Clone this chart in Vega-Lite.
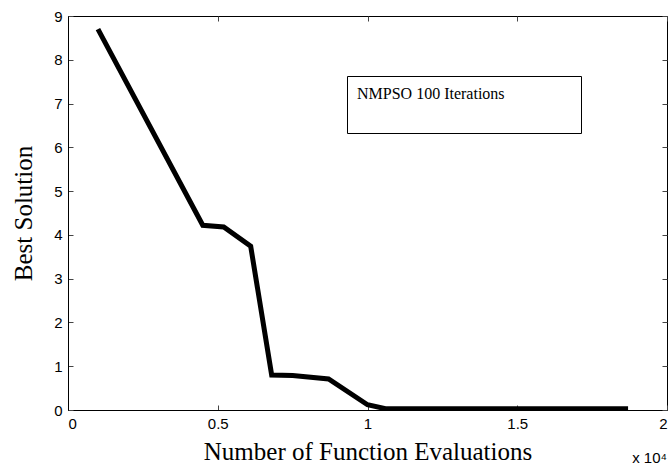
{
  "$schema": "https://vega.github.io/schema/vega-lite/v6.json",
  "autosize": "none",
  "padding": {"left": 68, "top": 16, "right": 1, "bottom": 58},
  "width": 599,
  "height": 394,
  "background": "white",
  "config": {
    "view": {"stroke": "black", "strokeWidth": 1},
    "axis": {
      "grid": false,
      "domainColor": "black",
      "tickColor": "#444",
      "tickSize": -5,
      "labelFont": "Liberation Sans",
      "labelFontSize": 15,
      "labelColor": "black",
      "titleFont": "Liberation Serif",
      "titleFontSize": 25,
      "titleFontWeight": "normal",
      "titleColor": "black"
    }
  },
  "title": {
    "text": "x 10⁴",
    "orient": "bottom",
    "anchor": "end",
    "frame": "group",
    "font": "Liberation Sans",
    "fontSize": 15,
    "fontWeight": "normal",
    "color": "black",
    "offset": -13
  },
  "data": {
    "values": [
      {"evals": 1000, "best": 8.7, "series": "NMPSO 100 Iterations"},
      {"evals": 4500, "best": 4.22, "series": "NMPSO 100 Iterations"},
      {"evals": 5200, "best": 4.18, "series": "NMPSO 100 Iterations"},
      {"evals": 6100, "best": 3.74, "series": "NMPSO 100 Iterations"},
      {"evals": 6800, "best": 0.8, "series": "NMPSO 100 Iterations"},
      {"evals": 7500, "best": 0.79, "series": "NMPSO 100 Iterations"},
      {"evals": 8700, "best": 0.71, "series": "NMPSO 100 Iterations"},
      {"evals": 10000, "best": 0.12, "series": "NMPSO 100 Iterations"},
      {"evals": 10600, "best": 0.03, "series": "NMPSO 100 Iterations"},
      {"evals": 18700, "best": 0.03, "series": "NMPSO 100 Iterations"}
    ]
  },
  "layer": [
    {
      "mark": {"type": "line", "strokeWidth": 5, "clip": true},
      "encoding": {
        "x": {
          "field": "evals", "type": "quantitative",
          "scale": {"domain": [0, 20000], "nice": false, "zero": false},
          "axis": {
            "orient": "bottom",
            "values": [0, 5000, 10000, 15000, 20000],
            "labelExpr": "datum.value / 10000",
            "labelPadding": 11,
            "title": "Number of Function Evaluations",
            "titlePadding": 8
          }
        },
        "y": {
          "field": "best", "type": "quantitative",
          "scale": {"domain": [0, 9], "nice": false, "zero": false},
          "axis": {
            "orient": "left",
            "values": [0, 1, 2, 3, 4, 5, 6, 7, 8, 9],
            "labelPadding": 11,
            "title": "Best Solution",
            "titlePadding": 17
          }
        },
        "color": {
          "field": "series", "type": "nominal",
          "scale": {"range": ["black"]},
          "legend": {
            "orient": "none",
            "legendX": 279,
            "legendY": 60,
            "title": null,
            "strokeColor": "black",
            "fillColor": "white",
            "padding": 6,
            "symbolType": "M-1,-1H17.42V2.667H-1Z",
            "symbolSize": 576,
            "symbolOpacity": 0,
            "symbolStrokeWidth": 0,
            "labelOffset": -20,
            "labelFont": "Liberation Serif",
            "labelFontSize": 16,
            "labelColor": "black",
            "labelLimit": 0
          }
        }
      }
    },
    {
      "mark": {"type": "line", "opacity": 0},
      "encoding": {
        "x": {
          "field": "evals", "type": "quantitative",
          "scale": {"domain": [0, 20000], "nice": false, "zero": false},
          "axis": {"orient": "top", "values": [0, 5000, 10000, 15000, 20000], "labels": false, "title": null, "domain": false}
        },
        "y": {
          "field": "best", "type": "quantitative",
          "scale": {"domain": [0, 9], "nice": false, "zero": false},
          "axis": {"orient": "right", "values": [0, 1, 2, 3, 4, 5, 6, 7, 8, 9], "labels": false, "title": null, "domain": false}
        }
      }
    }
  ],
  "resolve": {"axis": {"x": "independent", "y": "independent"}}
}
